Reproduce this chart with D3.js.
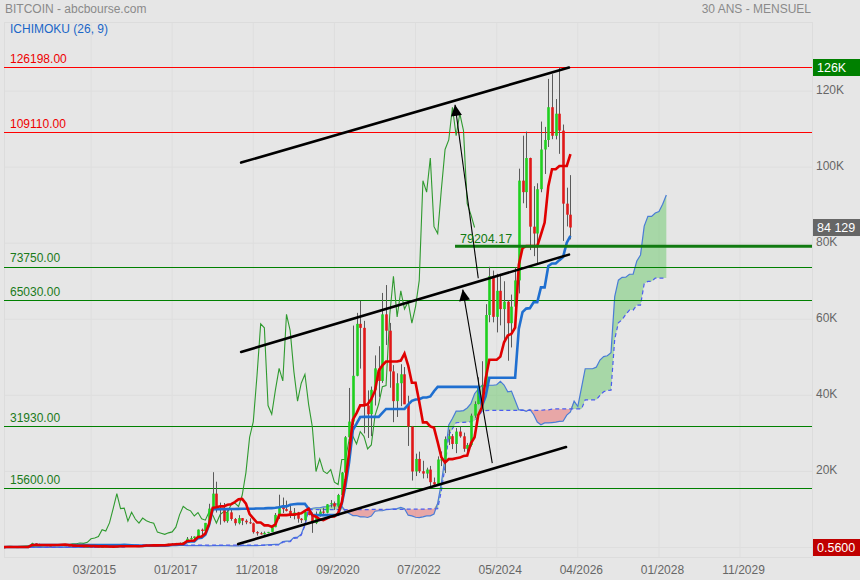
<!DOCTYPE html>
<html><head><meta charset="utf-8">
<script src="https://cdn.jsdelivr.net/npm/d3@7"></script>
<style>html,body{margin:0;padding:0;background:#e6e6e6;}svg{display:block;font-family:"Liberation Sans",Arial,sans-serif;}</style>
</head><body><svg id="c" width="860" height="580"></svg>
<script>
// ---- DATA (monthly BTC/USD, first bar = 2011-01) ----
const startMonth = "2011-01";
const opens = [
0.30,0.52,0.86,0.78,3.50,8.70,16.1,13.4,8.2,5.1,3.2,3.0,
4.7,5.5,4.9,4.9,5.0,5.2,6.7,9.4,10.2,12.4,11.2,12.6,
13.5,20.4,33.4,93,139,129,97,106,135,133,204,1129,
732,802,573,457,448,630,640,585,480,387,338,378,
320,217,254,244,236,230,263,284,230,236,314,377,
430,369,437,416,448,531,673,624,575,609,700,742,
964,970,1190,1080,1350,2300,2480,2875,4700,4340,6470,10230,
14160,10220,10330,6930,9240,7490,6390,7730,7030,6630,6370,4040,
3740,3460,3850,4100,5350,8570,10820,10080,9630,8290,9200,7570,
7190,9350,8540,6420,8630,9450,9140,11350,11650,10780,13800,19700,
28990,33110,45140,58800,57750,37330,35040,41460,47100,43790,61300,57000,
46300,38480,43190,45540,37640,31790,19980,23290,20050,19430,20490,17170,
16550,23140,23150,28480,29270,27220,30480,29230,25940,26960,34660,37720,
42280,42580,61130,71330,60640,67490,62680,64620,58970,63330,70220,96450,
93430,102400,84350,82550,94200,104640,107140,115760,108250,114050,109600,90400,
87500];
const highs = [
0.56,1.10,0.95,3.90,9.0,31.9,17.5,14.0,8.4,5.1,3.3,4.8,
7.4,6.3,5.4,5.2,5.2,6.8,9.6,15.4,12.9,12.9,12.6,13.8,
20.4,33.4,95,266,140,129,111,140,147,220,1242,1165,
1000,850,720,550,635,680,650,600,500,420,450,390,
320,265,300,260,247,268,320,285,250,335,500,465,
460,445,440,470,550,780,705,630,610,740,760,975,
1150,1200,1290,1350,2760,2980,2920,4750,4980,6470,11500,19800,
17300,11800,11700,9800,9990,7760,8500,7760,7410,7680,6550,4310,
4110,4210,4110,5640,9070,13880,13130,12320,10950,10370,9370,7750,
9580,10500,9190,9470,10070,10430,11430,12470,12090,14100,19860,29300,
41950,58350,61680,64860,59590,41300,42320,50500,52920,66930,69000,59050,
47950,45800,48190,47440,39900,31960,24670,25200,22800,20990,21450,18390,
23950,25250,29190,31000,29820,31430,31800,30200,27490,35200,38430,44740,
48970,63970,73800,72800,71950,71950,70000,65000,66500,73600,99600,108270,
109350,102500,95000,95760,111980,110580,123200,124450,117900,126198,111200,94600,
97900];
const lows = [
0.29,0.52,0.67,0.78,3.0,8.7,12.5,7.2,4.5,2.2,2.0,2.8,
4.7,4.2,4.6,4.8,4.9,5.2,6.5,7.8,10.0,9.9,10.4,12.4,
13.2,19.6,33,50,80,88,65,98,120,107,198,380,
730,400,450,340,420,550,567,440,360,275,320,300,
152,212,235,215,228,218,253,195,225,236,300,350,
355,365,400,412,436,530,610,540,570,606,683,740,
750,920,890,1060,1350,2080,1840,2690,2980,4110,5520,9820,
9200,6000,6600,6500,7040,5760,6070,5880,6120,6180,3650,3130,
3400,3400,3730,4090,5330,7510,9080,9470,7750,7400,6530,6430,
6870,8470,3850,6150,8110,8830,8980,10540,9880,10430,13200,17600,
28130,32300,45000,47040,30000,28800,29280,37330,39600,43290,53250,42000,
32950,34320,37170,37700,26700,17600,18780,19600,18150,18200,15480,16270,
16500,21400,19570,26940,25870,24800,28860,25170,24900,26560,34100,37620,
38550,41880,59220,59190,56550,58400,53500,49100,52600,58900,66800,90500,
89260,78200,76600,74440,93400,98200,105300,107350,107300,103500,80600,84400,
81000];
const closes = [
0.52,0.86,0.78,3.50,8.70,16.1,13.4,8.2,5.1,3.2,3.0,4.7,
5.5,4.9,4.9,5.0,5.2,6.7,9.4,10.2,12.4,11.2,12.6,13.5,
20.4,33.4,93,139,129,97,106,135,133,204,1129,732,
802,573,457,448,630,640,585,480,387,338,378,320,
217,254,244,236,230,263,284,230,236,314,377,430,
369,437,416,448,531,673,624,575,609,700,742,964,
970,1190,1080,1350,2300,2480,2875,4700,4340,6470,10230,14160,
10220,10330,6930,9240,7490,6390,7730,7030,6630,6370,4040,3740,
3460,3850,4100,5350,8570,10820,10080,9630,8290,9200,7570,7190,
9350,8540,6420,8630,9450,9140,11350,11650,10780,13800,19700,28990,
33110,45140,58800,57750,37330,35040,41460,47100,43790,61300,57000,46300,
38480,43190,45540,37640,31790,19980,23290,20050,19430,20490,17170,16550,
23140,23150,28480,29270,27220,30480,29230,25940,26960,34660,37720,42280,
42580,61130,71330,60640,67490,62680,64620,58970,63330,70220,96450,93430,
102400,84350,82550,94200,104640,107140,115760,108250,114050,109600,90400,87500,
84129];

const ichimokuParams = [9, 26, 52];           // tenkan, kijun, senkou B
const xTickLabels = ["03/2015","01/2017","11/2018","09/2020","07/2022","05/2024","04/2026","01/2028","11/2029"];
const xTickBars = [50, 72, 94, 116, 138, 160, 182, 204, 226];   // bar index (months since 2011-01)
const yTickValues = [0, 20000, 40000, 60000, 80000, 100000, 120000];
const redLevels = [126198.00, 109110.00];
const greenLevels = [73750.00, 65030.00, 31930.00, 15600.00];
const keyLevel = 79204.17, keyLevelFromBar = 148.7;
const lastPrice = 84129, topPrice = 126198, bottomPrice = 0.5600;
// hand-drawn annotations, [bar index, price]
const channelLines = [
  [[90.7, 101200], [179.6, 126200]],
  [[90.7, 51400], [179.6, 77000]],
  [[89.9, 900], [178.8, 26400]]
];
const arrows = [
  [[155.0, 70800], [148.7, 116400]],
  [[158.8, 22200], [150.8, 67800]]
];

// ---- CHART ----
const svg = d3.select("#c");
const L = 4, R = 812, T = 22, B = 557;
const x = d3.scaleLinear().domain([26.4, 245.5]).range([L, R]);
const y = d3.scaleLinear().domain([0, 138160]).range([547.5, T]);

svg.append("rect").attr("width", 860).attr("height", 580).attr("fill", "#e6e6e6");
const defs = svg.append("defs");
defs.append("clipPath").attr("id", "clip").append("rect")
  .attr("x", L).attr("y", T).attr("width", R - L).attr("height", B - T);
defs.append("marker").attr("id", "ah").attr("viewBox", "0 -5 10 10")
  .attr("refX", 10).attr("refY", 0).attr("markerUnits", "userSpaceOnUse")
  .attr("markerWidth", 12).attr("markerHeight", 11).attr("orient", "auto")
  .append("path").attr("d", "M0,-5L10,0L0,5Z").attr("fill", "#000");

// grid
const grid = svg.append("g");
grid.selectAll(".gx").data(xTickBars).join("line")
  .attr("x1", d => x(d)).attr("x2", d => x(d)).attr("y1", T).attr("y2", B)
  .attr("stroke", "#dedede").attr("stroke-width", 1);
grid.selectAll(".gy").data(yTickValues).join("line")
  .attr("x1", L).attr("x2", R).attr("y1", d => y(d)).attr("y2", d => y(d))
  .attr("stroke", "#dedede").attr("stroke-width", 1);
grid.append("rect").attr("x", L + 0.5).attr("y", T + 0.5).attr("width", R - L).attr("height", B - T)
  .attr("fill", "none").attr("stroke", "#dcdcdc");

// axes labels
const xAxis = d3.axisBottom(x).tickValues(xTickBars).tickFormat((d, i) => xTickLabels[i]).tickSize(0).tickPadding(0);
const gx = svg.append("g").attr("transform", `translate(3,${B})`).call(xAxis);
gx.select(".domain").remove();
gx.selectAll("text").attr("y", 17).attr("dy", 0).attr("fill", "#666").attr("font-size", 12)
  .attr("font-family", "Liberation Sans, Arial, sans-serif");
const yAxis = d3.axisRight(y).tickValues(yTickValues.filter(v => v > 0)).tickFormat(d => (d / 1000) + "K").tickSize(0).tickPadding(0);
const gy = svg.append("g").attr("transform", `translate(816,0)`).call(yAxis);
gy.select(".domain").remove();
gy.selectAll("text").attr("dy", "0.18em").attr("fill", "#666").attr("font-size", 12)
  .attr("font-family", "Liberation Sans, Arial, sans-serif");

// compute ichimoku
const n = closes.length;
const [pT, pK, pB] = ichimokuParams;
function mid(i, p) {
  const a = Math.max(0, i - p + 1);
  return (d3.max(highs.slice(a, i + 1)) + d3.min(lows.slice(a, i + 1))) / 2;
}
const tenkan = d3.range(n).map(i => ({i, v: mid(i, pT)}));
const kijun = d3.range(n).map(i => ({i, v: mid(i, pK)}));
const cloud = d3.range(n).map(i => ({i: i + pK, a: (tenkan[i].v + kijun[i].v) / 2, b: mid(i, pB)}));
const chikou = d3.range(n).map(i => ({i: i - pK, v: closes[i]}));

const plot = svg.append("g").attr("clip-path", "url(#clip)");
plot.append("path").datum(cloud).attr("fill", "rgba(80,195,80,0.42)")
  .attr("d", d3.area().x(d => x(d.i)).y0(d => y(d.b)).y1(d => y(Math.max(d.a, d.b))));
plot.append("path").datum(cloud).attr("fill", "rgba(235,90,90,0.45)")
  .attr("d", d3.area().x(d => x(d.i)).y0(d => y(d.a)).y1(d => y(Math.max(d.a, d.b))));
plot.append("path").datum(cloud).attr("fill", "none").attr("stroke", "#4a7cd6").attr("stroke-width", 1.2)
  .attr("d", d3.line().x(d => x(d.i)).y(d => y(d.a)));
plot.append("path").datum(cloud).attr("fill", "none").attr("stroke", "#4b5cf0").attr("stroke-width", 1.2)
  .attr("stroke-dasharray", "4,3").attr("d", d3.line().x(d => x(d.i)).y(d => y(d.b)));

// level lines
plot.selectAll(".rl").data(redLevels).join("line")
  .attr("x1", L).attr("x2", R).attr("y1", d => Math.round(y(d)) + 0.5).attr("y2", d => Math.round(y(d)) + 0.5)
  .attr("stroke", "#ff0000").attr("stroke-width", 1);
plot.selectAll(".gl").data(greenLevels).join("line")
  .attr("x1", L).attr("x2", R).attr("y1", d => Math.round(y(d)) + 0.5).attr("y2", d => Math.round(y(d)) + 0.5)
  .attr("stroke", "#008000").attr("stroke-width", 1);

// chikou
plot.append("path").datum(chikou).attr("fill", "none").attr("stroke", "#2f9a2f").attr("stroke-width", 1.1)
  .attr("d", d3.line().x(d => x(d.i)).y(d => y(d.v)));

// candles
const bw = 2.6;
const cg = plot.append("g");
cg.selectAll("line").data(d3.range(n)).join("line")
  .attr("x1", i => Math.round(x(i)) + 0.5).attr("x2", i => Math.round(x(i)) + 0.5)
  .attr("y1", i => y(highs[i])).attr("y2", i => y(lows[i]))
  .attr("stroke", "#5a5a5a").attr("stroke-width", 1);
cg.selectAll("rect").data(d3.range(n)).join("rect")
  .attr("x", i => Math.round(x(i)) + 0.5 - bw / 2)
  .attr("y", i => y(Math.max(opens[i], closes[i])))
  .attr("width", bw)
  .attr("height", i => Math.max(1, Math.abs(y(opens[i]) - y(closes[i]))))
  .attr("fill", i => closes[i] >= opens[i] ? "#1fd01f" : "#e01818");

// kijun & tenkan
plot.append("path").datum(kijun).attr("fill", "none").attr("stroke", "#1f6fd0").attr("stroke-width", 2.6)
  .attr("d", d3.line().x(d => x(d.i)).y(d => y(d.v)));
plot.append("path").datum(tenkan).attr("fill", "none").attr("stroke", "#e00000").attr("stroke-width", 2.6)
  .attr("d", d3.line().x(d => x(d.i)).y(d => y(d.v)));

// key level
plot.append("line").attr("x1", x(keyLevelFromBar)).attr("x2", R)
  .attr("y1", y(keyLevel)).attr("y2", y(keyLevel)).attr("stroke", "#117a11").attr("stroke-width", 3);
svg.append("text").attr("x", x(keyLevelFromBar) + 5).attr("y", y(keyLevel) - 3)
  .attr("fill", "#117a11").attr("font-size", 12.5).text(keyLevel.toFixed(2));

// channel lines & arrows
plot.selectAll(".ch").data(channelLines).join("line")
  .attr("x1", d => x(d[0][0])).attr("y1", d => y(d[0][1]))
  .attr("x2", d => x(d[1][0])).attr("y2", d => y(d[1][1]))
  .attr("stroke", "#000").attr("stroke-width", 2.6).attr("stroke-linecap", "round");
plot.selectAll(".ar").data(arrows).join("line")
  .attr("x1", d => x(d[0][0])).attr("y1", d => y(d[0][1]))
  .attr("x2", d => x(d[1][0])).attr("y2", d => y(d[1][1]))
  .attr("stroke", "#000").attr("stroke-width", 1.1).attr("marker-end", "url(#ah)");

// level labels
svg.selectAll(".rt").data(redLevels).join("text")
  .attr("x", 10).attr("y", d => y(d) - 4.5).attr("fill", "#ee0000").attr("font-size", 12)
  .text(d => d.toFixed(2));
svg.selectAll(".gt").data(greenLevels).join("text")
  .attr("x", 10).attr("y", d => y(d) - 4.5).attr("fill", "#1a7a1a").attr("font-size", 12)
  .text(d => d.toFixed(2));

// headers
svg.append("text").attr("x", 5).attr("y", 13).attr("fill", "#8a8a8a").attr("font-size", 12).text("BITCOIN - abcbourse.com");
svg.append("text").attr("x", 811).attr("y", 13).attr("text-anchor", "end").attr("fill", "#8a8a8a").attr("font-size", 12).text("30 ANS - MENSUEL");
svg.append("text").attr("x", 10).attr("y", 33).attr("fill", "#1a66c8").attr("font-size", 12).text("ICHIMOKU (26, 9)");

// right value boxes
const boxes = [
  {v: topPrice, label: Math.round(topPrice / 1000) + "K", fill: "#008000"},
  {v: lastPrice, label: d3.format(",")(lastPrice).replace(",", " "), fill: "#666666"},
  {v: bottomPrice, label: bottomPrice.toFixed(4), fill: "#c00000"}
];
const bg = svg.selectAll(".bx").data(boxes).join("g");
bg.append("rect").attr("x", 813).attr("y", d => y(d.v) - 8.5).attr("width", 47).attr("height", 17).attr("fill", d => d.fill);
bg.append("text").attr("x", 817).attr("y", d => y(d.v) + 4.5).attr("fill", "#fff").attr("font-size", 12.5).text(d => d.label);
</script></body></html>
